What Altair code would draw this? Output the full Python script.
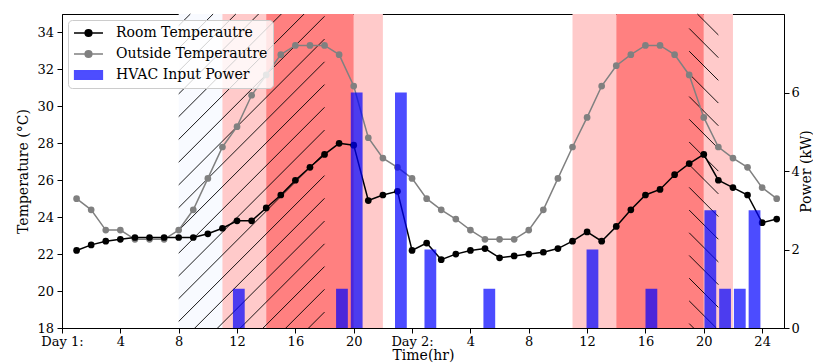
import math
import altair as alt
import pandas as pd

# ---------------- data ----------------
hours = list(range(1, 50))
room_temp = [22.2, 22.5, 22.7, 22.8, 22.9, 22.9, 22.9, 22.9, 22.9, 23.1, 23.4, 23.8,
             23.8, 24.5, 25.2, 26.0, 26.7, 27.4, 28.0, 27.9, 24.9, 25.2, 25.4, 22.2,
             22.6, 21.7, 22.0, 22.2, 22.3, 21.8, 21.9, 22.0, 22.1, 22.3, 22.7, 23.2,
             22.7, 23.5, 24.4, 25.2, 25.5, 26.3, 26.9, 27.4, 26.0, 25.6, 25.2, 23.7, 23.9]
outside_temp = [25.0, 24.4, 23.3, 23.3, 22.8, 22.8, 22.8, 23.3, 24.4, 26.1, 27.8, 28.9,
                30.6, 31.7, 32.8, 33.3, 33.3, 33.3, 32.8, 31.1, 28.3, 27.2, 26.7, 26.1,
                25.0, 24.4, 23.9, 23.3, 22.8, 22.8, 22.8, 23.3, 24.4, 26.1, 27.8, 29.4,
                31.1, 32.2, 32.8, 33.3, 33.3, 32.8, 31.7, 29.4, 27.8, 27.2, 26.7, 25.6, 25.0]
power_hours = [12, 19, 20, 23, 25, 29, 36, 40, 44, 45, 46, 47]
power_kw = [1, 1, 6, 6, 2, 1, 2, 1, 3, 1, 1, 3]

pink_start = [11, 20, 35, 44]
pink_end = [14, 22, 38, 46]
red_start = [14, 38]
red_end = [20, 44]
hatch_fwd = (8, 18)     # "/" hatched span
hatch_back = (43, 45)   # "\" hatched span

tick_values = [0, 4, 8, 12, 16, 20, 24, 28, 32, 36, 40, 44, 48]
tick_labels = ["Day 1:", "4", "8", "12", "16", "20", "Day 2:", "4", "8", "12", "16", "20", "24"]
power_ticks = [0, 2, 4, 6]

series_names = ["Room Temperautre", "Outside Temperautre", "HVAC Input Power"]
series_colors = ["#000000", "#808080", "#4d4dff"]

# ---------------- layout ----------------
W, H = 722, 314
XMAX = 49.5
YMIN, YMAX = 18, 35
FONT = "DejaVu Serif"

kx = W / XMAX
ky = H / (YMAX - YMIN)


def hatch_segments(x0, x1, direction, spacing, phase):
    u0, u1 = x0 * kx, x1 * kx
    segs = []
    if direction == "/":
        lo = u0 - H
        d = phase - spacing * math.ceil((phase - lo) / spacing)
        while d <= u1:
            us, ue = max(u0, d), min(u1, d + H)
            if us < ue:
                segs.append((us, us - d, ue, ue - d))
            d += spacing
    else:
        lo = u0
        e = phase - spacing * math.ceil((phase - lo) / spacing)
        while e <= u1 + H:
            us, ue = max(u0, e - H), min(u1, e)
            if us < ue:
                segs.append((us, e - us, ue, e - ue))
            e += spacing
    return pd.DataFrame([
        {"xa": a / kx, "ya": YMIN + b / ky, "xb": c / kx, "yb": YMIN + d_ / ky}
        for a, b, c, d_ in segs
    ])


hatch_df = pd.concat([
    hatch_segments(hatch_fwd[0], hatch_fwd[1], "/", 22.75, 110.1),
    hatch_segments(hatch_back[0], hatch_back[1], "\\", 22.7, 631.6),
], ignore_index=True)

lines_df = pd.DataFrame({"hour": hours, "room": room_temp, "outside": outside_temp})
power_df = pd.DataFrame({"hour": power_hours, "power": power_kw})
pink_df = pd.DataFrame({"s": pink_start, "e": pink_end})
red_df = pd.DataFrame({"s": red_start, "e": red_end})
faint_df = pd.DataFrame({"s": [hatch_fwd[0]], "e": [hatch_fwd[1]]})
legend_df = pd.DataFrame({"series": series_names, "hour": [-100] * 3, "t": [20] * 3})

label_expr = " : ".join(
    f"datum.value == {v} ? '{l}'" for v, l in zip(tick_values, tick_labels)
) + " : ''"

xscale = alt.Scale(domain=[0, XMAX], nice=False, zero=False)
yscale = alt.Scale(domain=[YMIN, YMAX], nice=False, zero=False)
xaxis = alt.Axis(title="Time(hr)", values=tick_values, labelExpr=label_expr,
                 tickSize=5, labelPadding=2, titlePadding=0, labelFlush=False)
yaxis = alt.Axis(title="Temperature (°C)", values=list(range(18, 35, 2)),
                 tickSize=5, labelPadding=3.5, titlePadding=6, orient="left")


def X(field):
    return alt.X(field, type="quantitative", scale=xscale, axis=xaxis)


faint = alt.Chart(faint_df).mark_rect(color="#f8faff").encode(x=X("s"), x2="e")
pink = alt.Chart(pink_df).mark_rect(color="#ffcaca").encode(x=X("s"), x2="e")
red = alt.Chart(red_df).mark_rect(color="#ff8080").encode(x=X("s"), x2="e")
hatch = alt.Chart(hatch_df).mark_rule(color="#000000", strokeWidth=0.9).encode(
    x=X("xa"), x2="xb",
    y=alt.Y("ya:Q", scale=yscale, axis=yaxis), y2="yb",
)

outside_line = alt.Chart(lines_df).mark_line(color="#808080", strokeWidth=1.5).encode(
    x=X("hour"), y=alt.Y("outside:Q", scale=yscale, axis=yaxis))
outside_pts = alt.Chart(lines_df).mark_point(
    filled=True, color="#808080", size=45, opacity=1).encode(
    x=X("hour"), y=alt.Y("outside:Q", scale=yscale, axis=yaxis))
room_line = alt.Chart(lines_df).mark_line(color="#000000", strokeWidth=1.5).encode(
    x=X("hour"), y=alt.Y("room:Q", scale=yscale, axis=yaxis))
room_pts = alt.Chart(lines_df).mark_point(
    filled=True, color="#000000", size=45, opacity=1).encode(
    x=X("hour"), y=alt.Y("room:Q", scale=yscale, axis=yaxis))

# legend symbols: unit = sqrt(196)/2 = 7 px
line_sym = "M-2.07,0H2.07M0.48,0A0.48,0.48,0,1,1,-0.48,0A0.48,0.48,0,1,1,0.48,0Z"
rect_sym = "M-1.98,-0.62H1.98V0.62H-1.98Z"
leg = alt.Legend(orient="top-left", offset=6, title=None, padding=5,
                 labelFont=FONT, labelFontSize=14, labelColor="#000000",
                 symbolSize=196, symbolOffset=7.5, labelOffset=19.5, rowPadding=6,
                 cornerRadius=4, strokeColor="#cccccc",
                 fillColor="rgba(255,255,255,0.8)", symbolStrokeWidth=1.5,
                 symbolOpacity=1)
legend_layer = alt.Chart(legend_df).mark_point(
    opacity=1, clip=True, strokeWidth=1.5, filled=True).encode(
    x=X("hour"),
    y=alt.Y("t:Q", scale=yscale, axis=yaxis),
    fill=alt.Fill("series:N", scale=alt.Scale(domain=series_names, range=series_colors), legend=leg),
    stroke=alt.Stroke("series:N", scale=alt.Scale(domain=series_names, range=series_colors), legend=leg),
    shape=alt.Shape("series:N", scale=alt.Scale(domain=series_names,
                                                range=[line_sym, line_sym, rect_sym]), legend=leg),
)

inner = alt.layer(faint, pink, red, hatch, outside_line, outside_pts,
                  room_line, room_pts, legend_layer)

bars = alt.Chart(power_df).transform_calculate(
    x0="datum.hour - 0.4", x1="datum.hour + 0.4"
).mark_bar(color="#0000ff", opacity=0.7).encode(
    x=alt.X("x0:Q", scale=alt.Scale(domain=[0, 49], nice=False, zero=False), axis=None),
    x2="x1:Q",
    y=alt.Y("power:Q", scale=alt.Scale(domain=[0, 8], nice=False),
            axis=alt.Axis(title="Power (kW)", orient="right", values=power_ticks,
                          titleAngle=270, titleBaseline="top", titlePadding=0)),
    y2=alt.datum(0),
)

chart = alt.layer(inner, bars).resolve_scale(
    x="independent", y="independent"
).resolve_axis(
    y="independent"
).properties(
    width=W, height=H,
    padding={"left": 62, "top": 14, "right": 29, "bottom": 35},
    autosize=alt.AutoSizeParams(type="none"),
).configure_view(
    stroke="#000000", strokeWidth=1
).configure_axis(
    labelFont=FONT, labelFontSize=13, labelColor="#000000",
    titleFont=FONT, titleFontSize=14, titleFontWeight="normal", titleColor="#000000",
    tickColor="#000000", domainColor="#000000", domainWidth=1, tickWidth=1, grid=False,
)

chart.save("out.html", embed_options={"renderer": "svg", "actions": False})
